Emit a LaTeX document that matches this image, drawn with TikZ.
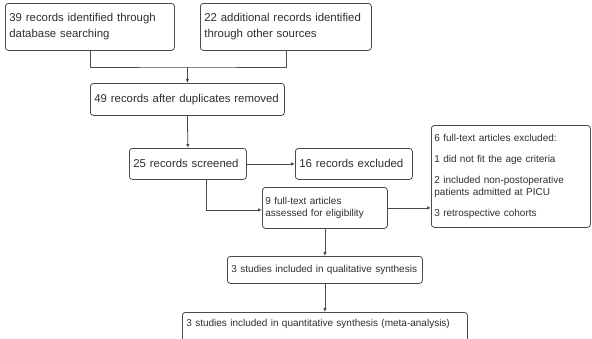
\documentclass[tikz,border=0pt]{standalone}
\usepackage{fontspec}
\setmainfont{Liberation Sans}
\usetikzlibrary{arrows.meta}
\definecolor{linegray}{HTML}{4A4A4A}
\definecolor{textgray}{HTML}{2E2E2E}
\tikzset{
box/.style={draw=linegray, line width=0.8pt, rounded corners=3pt, anchor=north west,
  align=left, inner xsep=4pt, inner ysep=2pt, text=textgray},
bigbox/.style={box, font=\fontsize{11.4}{16}\selectfont},
smallbox/.style={box, inner xsep=3pt, font=\fontsize{10}{12.5}\selectfont},
link/.style={draw=linegray, line width=0.8pt},
arrow/.style={link, -{Latex[length=4pt,width=3.5pt]}}
}

\begin{document}
\begin{tikzpicture}[x=1pt, y=-1pt]
  \useasboundingbox (0,0) rectangle (592,338);
  \node[bigbox, text width=161pt, minimum height=47pt] (db) at (5,3)
    {39 records identified through\\database searching};
  \node[bigbox, text width=163pt, minimum height=47pt] (other) at (200,3)
    {22 additional records identified\\through other sources};
  \node[bigbox, text width=186pt, minimum height=32pt] (dup) at (90,83)
    {49 records after duplicates removed};
  \node[bigbox, text width=109pt, minimum height=31pt] (screened) at (129,148)
    {25 records screened};
  \node[bigbox, text width=109pt, minimum height=31pt] (excl) at (295,148)
    {16 records excluded};
  \node[smallbox, text width=119pt, minimum height=41pt] (full) at (262,187)
    {9 full-text articles\\assessed for eligibility};
  \node[smallbox, text width=153pt, minimum height=102pt] (fexcl) at (431,125)
    {6 full-text articles excluded:\\[8.5pt]1 did not fit the age criteria\\[8.5pt]
     2 included non-postoperative\\patients admitted at PICU\\[8.5pt]3 retrospective cohorts};
  \node[smallbox, inner xsep=4pt, text width=187pt, minimum height=27pt] (qual) at (227,256)
    {3 studies included in qualitative synthesis};
  \node[smallbox, inner xsep=4pt, inner ysep=3pt, text width=277pt, text height=11pt,
    text depth=16pt] (quant) at (182,312)
    {3 studies included in quantitative synthesis (meta-analysis)};

  \coordinate (merge) at (187.5,67);
  \draw[link] (db.south) |- (merge) -| (other.south);
  \draw[arrow] (merge) -- (dup.north);
  \draw[arrow] (dup.south) -- (screened.north);
  \draw[arrow] (screened.east) -- (excl.west);
  \draw[arrow] ([xshift=18pt]screened.south) |- ([yshift=-2pt]full.west);
  \draw[arrow] (full.east) -- (full.east -| fexcl.west);
  \draw[arrow] (full.south) -- (qual.north);
  \draw[arrow] (qual.south) -- (quant.north);
\end{tikzpicture}
\end{document}
